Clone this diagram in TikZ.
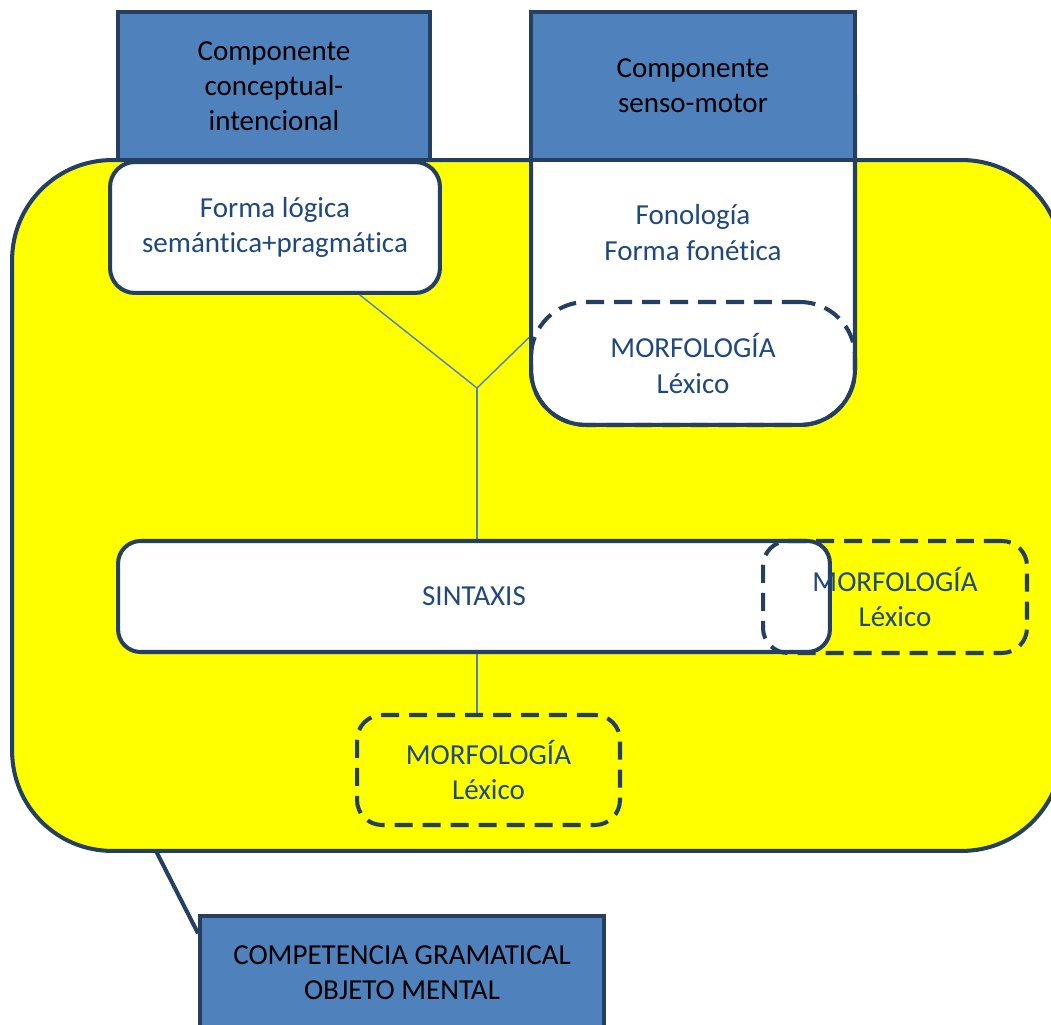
\documentclass[tikz,border=0pt]{standalone}
\usepackage{fontspec}
\setmainfont{Carlito}[Ligatures=NoCommon,Contextuals=NoAlternate]
\definecolor{edgeblue}{HTML}{243F60}
\definecolor{fillblue}{HTML}{4F81BD}
\definecolor{textblue}{HTML}{1F497D}
\definecolor{areayellow}{HTML}{FFFF00}

\begin{document}
\begin{tikzpicture}[x=0.02cm,y=0.02cm,
  every node/.style={inner sep=0pt,align=center,font=\fontsize{16.5}{20}\selectfont},
  bluebox/.style={draw=edgeblue,fill=fillblue,line width=2.3pt,text=black},
  whitebox/.style={draw=edgeblue,fill=white,line width=2.3pt,text=textblue},
  dashbox/.style={draw=edgeblue,line width=2.3pt,text=textblue,dash pattern=on 0.36cm off 0.2cm},
  yellowarea/.style={draw=edgeblue,fill=areayellow,line width=2.3pt,rounded corners=2cm},
  link/.style={draw=fillblue,line width=0.8pt}]
\path[use as bounding box] (0,0) rectangle (1051,1024);

% area of the grammar
\node[yellowarea,minimum width=21cm,minimum height=13.82cm] (area) at (537,518.5) {};

% sensory-motor side, white column under the blue head
\node[whitebox,rounded corners=1.1cm,minimum width=6.48cm,minimum height=7.7cm] (fono) at (693,791.5) {Fonología\\Forma fonética};

% interface components
\node[bluebox,minimum width=6.24cm,minimum height=2.96cm] (concept) at (274,938) {Componente\\conceptual-\\intencional};
\node[bluebox,minimum width=6.48cm,minimum height=2.96cm] (senso) at (693,938) {Componente\\senso-motor};

\node[whitebox,rounded corners=0.5cm,minimum width=6.6cm,minimum height=2.62cm] (forma) at (275,796.5) {Forma lógica\\semántica+pragmática};
\node[dashbox,rounded corners=1.1cm,minimum width=6.48cm,minimum height=2.46cm] (morfA) at (693,660.5) {MORFOLOGÍA\\Léxico};

% branching lines
\coordinate (junc) at (477,636);
\draw[link] (forma) -- (junc);
\draw[link] (morfA.171) -- (junc);
\draw[link] (junc) -- (junc |- 0,483);

\node[whitebox,rounded corners=0.45cm,minimum width=14.24cm,minimum height=2.22cm] (sintaxis) at (474,427.5) {SINTAXIS};
\node[dashbox,rounded corners=0.5cm,minimum width=5.28cm,minimum height=2.24cm] (morfB) at (895,427) {MORFOLOGÍA\\Léxico};
\node[dashbox,rounded corners=0.5cm,minimum width=5.26cm,minimum height=2.2cm] (morfC) at (488.5,254) {MORFOLOGÍA\\Léxico};
\draw[link] (junc |- sintaxis.south) -- (junc |- morfC.north);

% whole competence
\node[bluebox,minimum width=8.08cm,minimum height=2.28cm] (compet) at (402,51) {COMPETENCIA GRAMATICAL\\OBJETO MENTAL};
\coordinate (foot) at (156,173);
\draw[edgeblue,line width=2.3pt] (foot) -- (compet.169);
\end{tikzpicture}
\end{document}
